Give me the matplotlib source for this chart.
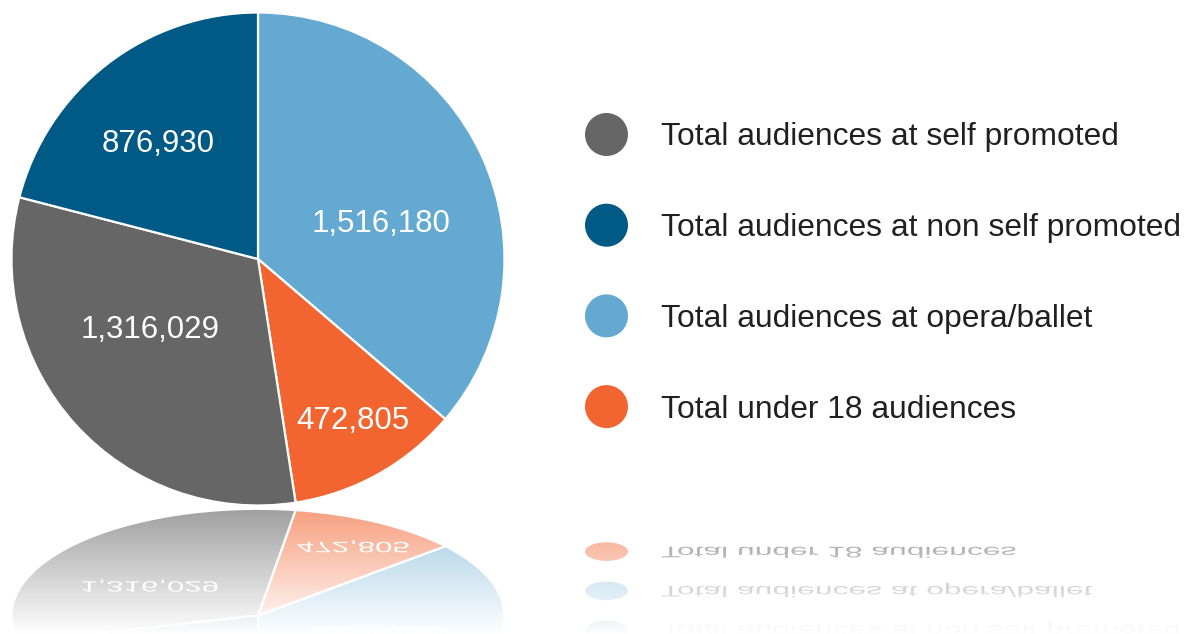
"""
pie chart of audience totals, with a faded mirror image underneath
"""
import numpy as np
import matplotlib
matplotlib.use('Agg')
import matplotlib.pyplot as plt
from matplotlib.patches import Ellipse, PathPatch
from matplotlib.textpath import TextPath
from matplotlib.font_manager import FontProperties
from matplotlib.transforms import Affine2D

# data (legend order)
categories = ['Total audiences at self promoted',
              'Total audiences at non self promoted',
              'Total audiences at opera/ballet',
              'Total under 18 audiences']
values = [1316029, 876930, 1516180, 472805]
colors = ['#666666', '#005a85', '#64a9d1', '#f26531']

# pie goes clockwise from 12 o'clock: opera, under 18, self, non self
pie_order = [2, 3, 0, 1]

# layout, in pixels from the top left corner
W, H = 1184, 634
pie_cx, pie_cy, pie_r = 258, 259, 246.5
# value label centre x / baseline y, same order as categories
label_pos = [(150, 338), (158, 152), (381, 232), (353, 429)]
leg_marker_x, leg_text_x = 606.5, 661
leg_y0, leg_step = 134.5, 90.7
label_size = 22.5
legend_size = 22.9
text_color = '#231f20'

# mirror: y' = refl_top + squash * (pie_bottom - y)
pie_bottom, refl_top, squash, text_squash = 505, 509, 0.433, 0.48
fade_start, fade_len = 0.62, 125


def fy(y_pix):
    # pixel row -> data y (data y grows upwards)
    return H - y_pix


def mirror_y(y_pix):
    return refl_top + squash * (pie_bottom - y_pix)


fig = plt.figure(figsize=(W / 100, H / 100), dpi=100)
ax = fig.add_axes([0, 0, 1, 1])
font = FontProperties(family='Liberation Sans')

pie_vals = [values[i] for i in pie_order]
pie_cols = [colors[i] for i in pie_order]

# main pie
ax.pie(pie_vals, colors=pie_cols, startangle=90, counterclock=False,
       center=(pie_cx, fy(pie_cy)), radius=pie_r, frame=True,
       wedgeprops=dict(edgecolor='white', linewidth=1.6))

for i, v in enumerate(values):
    x, yb = label_pos[i]
    ax.text(x, fy(yb), f'{v:,}', color='white', fontsize=label_size,
            fontproperties=font, ha='center', va='baseline', zorder=4)

# legend
for i, cat in enumerate(categories):
    y = leg_y0 + i * leg_step
    ax.scatter([leg_marker_x], [fy(y)], s=(43 * 0.72) ** 2, color=colors[i],
               edgecolors='none', zorder=4)
    ax.text(leg_text_x, fy(y + 11), cat, color=text_color, fontsize=legend_size,
            fontproperties=font, ha='left', va='baseline', zorder=4)

# reflection of the pie, squashed vertically
refl = Affine2D().scale(1, -squash).translate(0, fy(refl_top) + squash * fy(pie_bottom))
wedges, _ = ax.pie(pie_vals, colors=pie_cols, startangle=90, counterclock=False,
                   center=(pie_cx, fy(pie_cy)), radius=pie_r, frame=True,
                   wedgeprops=dict(edgecolor='white', linewidth=1.6))
for w in wedges:
    w.set_transform(refl + ax.transData)
    w.set_zorder(1)


def flipped_text(s, x, yb_pix, ha, color, size, alpha=1.0):
    tp = TextPath((0, 0), s, size=size * 100 / 72, prop=font)
    ext = tp.get_extents()
    dx = -ext.width / 2 - ext.x0 if ha == 'center' else 0
    tr = Affine2D().translate(dx, 0).scale(1, -text_squash).translate(x, fy(mirror_y(yb_pix)))
    patch = PathPatch(tr.transform_path(tp), facecolor=color, edgecolor='none',
                      alpha=alpha, zorder=2)
    ax.add_patch(patch)


for i, v in enumerate(values):
    x, yb = label_pos[i]
    flipped_text(f'{v:,}', x, yb, 'center', 'white', label_size)

for i, cat in enumerate(categories):
    y = leg_y0 + i * leg_step
    ax.add_patch(Ellipse((leg_marker_x, fy(mirror_y(y))), 43, 43 * squash,
                         facecolor=colors[i], edgecolor='none', zorder=2))
    flipped_text(cat, leg_text_x, y + 11, 'left', text_color, legend_size, alpha=0.8)

# white fade over the reflection
rows = np.arange(pie_bottom + 2, H + 1)
alpha = 1 - fade_start * np.clip(1 - (rows - refl_top) / fade_len, 0, 1)
grad = np.ones((len(rows), 1, 4))
grad[:, 0, 3] = alpha
ax.imshow(grad, extent=(0, W, fy(rows[-1]), fy(rows[0])), origin='upper',
          aspect='auto', interpolation='bilinear', zorder=3)

ax.set_xlim(0, W)
ax.set_ylim(0, H)
ax.set_aspect('equal')
ax.axis('off')

plt.savefig('out.png', dpi=100, facecolor='white')
